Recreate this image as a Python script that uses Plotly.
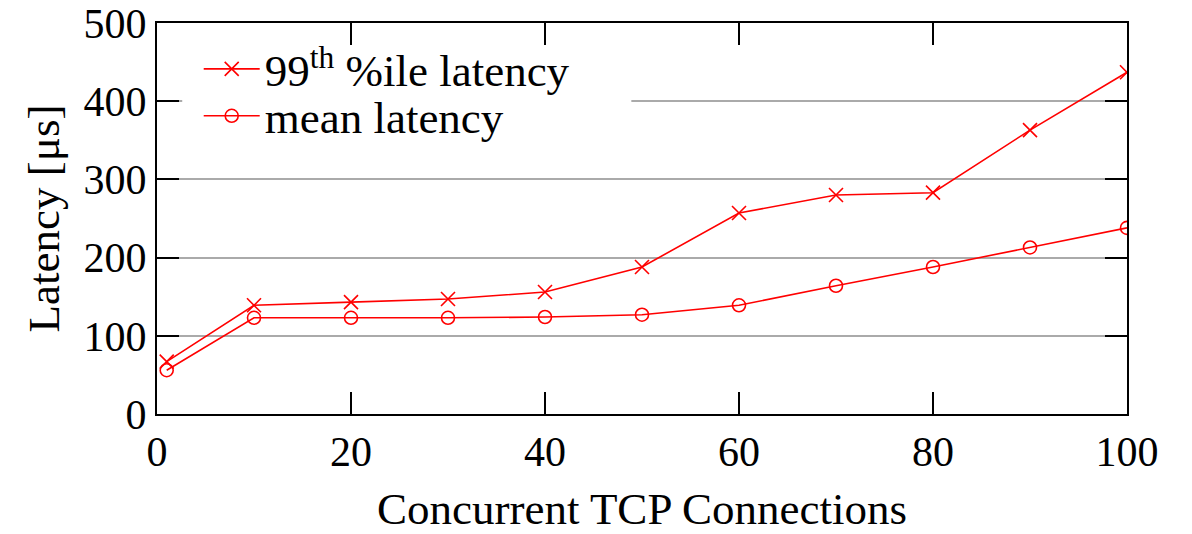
import plotly.graph_objects as go

# Concurrent TCP connections vs. request latency
connections = [1, 10, 20, 30, 40, 50, 60, 70, 80, 90, 100]
p99_latency = [67, 139, 143, 147, 156, 188, 257, 280, 283, 363, 437]
mean_latency = [56, 123, 123, 123, 124, 127, 139, 164, 188, 213, 238]

x_ticks = [0, 20, 40, 60, 80, 100]
y_ticks = [0, 100, 200, 300, 400, 500]

FONT = "Liberation Serif, Times New Roman, serif"
RED = "#ff0000"

fig = go.Figure()
fig.add_trace(go.Scatter(
    x=connections, y=p99_latency, mode="lines+markers",
    name="99<sup>th</sup> %ile latency", legend="legend",
    line=dict(color=RED, width=1.6),
    marker=dict(symbol="x-thin-open", size=14, color=RED,
                line=dict(color=RED, width=1.6)),
))
fig.add_trace(go.Scatter(
    x=connections, y=mean_latency, mode="lines+markers",
    name="mean latency", legend="legend2",
    line=dict(color=RED, width=1.6),
    marker=dict(symbol="circle-open", size=13, color=RED,
                line=dict(color=RED, width=1.6)),
))

axis_common = dict(
    showline=True, linecolor="black", linewidth=2, mirror="ticks",
    ticks="inside", ticklen=22, tickwidth=1.5, tickcolor="black",
    tickfont=dict(family=FONT, size=42, color="black"),
    zeroline=False, automargin=False,
)

fig.update_xaxes(
    range=[0, 100], tickvals=x_ticks, showgrid=False,
    title=dict(text="Concurrent TCP Connections",
               font=dict(family=FONT, size=45, color="black"), standoff=20),
    **axis_common,
)
fig.update_yaxes(
    range=[0, 500], tickvals=y_ticks, showgrid=True,
    gridcolor="#aaaaaa", gridwidth=1.5,
    title=dict(text="Latency [μs]",
               font=dict(family=FONT, size=45, color="black"), standoff=10),
    **axis_common,
)

# White key panel hiding the grid behind the legend (clear of the ticks)
fig.add_shape(
    type="rect", xref="x domain", yref="y domain",
    x0=0.026, x1=0.489, y0=0.66, y1=0.935,
    fillcolor="white", line=dict(width=0), layer="above",
)

legend_common = dict(
    xanchor="left", yanchor="middle",
    bgcolor="rgba(0,0,0,0)", borderwidth=0,
    font=dict(family=FONT, size=45, color="black"),
    itemwidth=56, tracegroupgap=0,
)

fig.update_layout(
    width=1192, height=534,
    margin=dict(l=157, r=65, t=23, b=120),
    paper_bgcolor="white", plot_bgcolor="white",
    showlegend=True,
    legend=dict(x=0.043, y=0.882, **legend_common),
    legend2=dict(x=0.043, y=0.762, **legend_common),
)

fig.write_html("out.html")
